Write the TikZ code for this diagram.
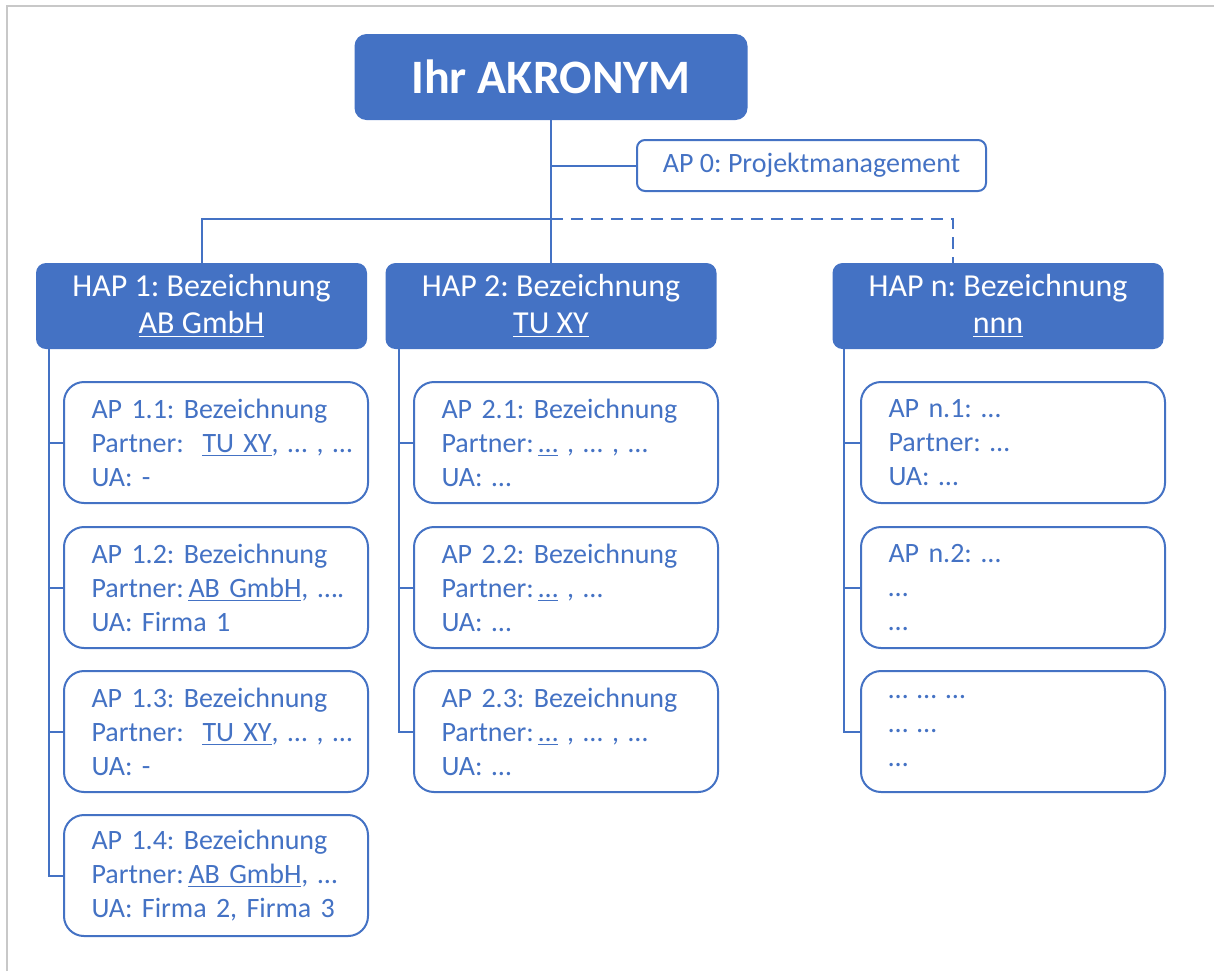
\documentclass[tikz,border=0pt]{standalone}
\usepackage{fontspec}
\setmainfont{Carlito}
\frenchspacing
\definecolor{obl}{HTML}{4472C4}
\definecolor{framegray}{HTML}{C8C8C8}
\newcommand{\apline}[1]{\mbox{#1}}
\tikzset{
  topbox/.style={fill=obl, rounded corners=6pt, minimum width=196.5pt, minimum height=43pt,
    text=white, inner sep=0pt, font=\fontsize{24}{29}\selectfont\bfseries},
  hapbox/.style={fill=obl, rounded corners=5pt, minimum width=165.5pt, minimum height=43pt,
    text=white, align=center, inner sep=0pt, font=\fontsize{16}{18.5}\selectfont},
  apbox/.style={draw=obl, line width=1pt, fill=white, rounded corners=10pt,
    minimum width=152pt, minimum height=60.5pt, text width=124.5pt, align=left,
    text=obl, inner ysep=0pt, font=\fontsize{14}{17}\selectfont},
  apzero/.style={draw=obl, line width=1pt, fill=white, rounded corners=4pt,
    minimum width=174.5pt, minimum height=25.5pt, inner sep=0pt,
    text=obl, font=\fontsize{14}{17}\selectfont},
  link/.style={draw=obl, line width=1pt},
  dlink/.style={draw=obl, line width=1pt, dash pattern=on 6pt off 4pt},
}
\begin{document}
\begin{tikzpicture}[x=0.5pt,y=-0.5pt]
\useasboundingbox (0,0) rectangle (1214,971);
\draw[framegray, line width=1pt] (7,971) -- (7,5.5) -- (1214,5.5);

% main nodes
\node[topbox] (top) at (551,77) {Ihr AKRONYM};
\node[apzero] (ap0) at (811.5,165.5) {AP 0: Projektmanagement};
\node[hapbox] (hap1) at (201.5,306) {HAP 1: Bezeichnung\\\underline{AB GmbH}};
\node[hapbox] (hap2) at (551,306) {HAP 2: Bezeichnung\\\underline{TU XY}};
\node[hapbox] (hapn) at (998,306) {HAP n: Bezeichnung\\\underline{nnn}};

% column 1
\node[apbox] (ap11) at (216,442.5) {\apline{AP 1.1: Bezeichnung}\\\apline{Partner:\ \ \underline{TU XY}, … , …}\\\apline{UA: -}};
\node[apbox] (ap12) at (216,587.5) {\apline{AP 1.2: Bezeichnung}\\\apline{Partner:\,\underline{AB GmbH}, ….}\\\apline{UA: Firma 1}};
\node[apbox] (ap13) at (216,731.5) {\apline{AP 1.3: Bezeichnung}\\\apline{Partner:\ \ \underline{TU XY}, … , …}\\\apline{UA: -}};
\node[apbox] (ap14) at (216,875.5) {\apline{AP 1.4: Bezeichnung}\\\apline{Partner:\,\underline{AB GmbH}, …}\\\apline{UA: Firma 2, Firma 3}};

% column 2
\node[apbox] (ap21) at (566,442.5) {\apline{AP 2.1: Bezeichnung}\\\apline{Partner:\,\underline{…} , … , …}\\\apline{UA: …}};
\node[apbox] (ap22) at (566,587.5) {\apline{AP 2.2: Bezeichnung}\\\apline{Partner:\,\underline{…} , …}\\\apline{UA: …}};
\node[apbox] (ap23) at (566,731.5) {\apline{AP 2.3: Bezeichnung}\\\apline{Partner:\,\underline{…} , … , …}\\\apline{UA: …}};

% column n
\node[apbox] (apn1) at (1013,442.5) {\apline{AP n.1: …}\\\apline{Partner: …}\\\apline{UA: …}};
\node[apbox] (apn2) at (1013,587.5) {\apline{AP n.2: …}\\…\\…};
\node[apbox] (apn3) at (1013,731.5) {\apline{… … …}\\\apline{… …}\\…};

% connectors
\coordinate (bus) at (551,219);
\draw[link] (top.south) -- (hap2.north);
\draw[link] (ap0.west) -- (ap0.west -| top.south);
\draw[link] (hap1.north) |- (bus);
\draw[dlink] (bus) -| ([xshift=-22.5pt]hapn.north);

\foreach \b in {ap11,ap12,ap13,ap14}
  \draw[link] ([xshift=6.5pt]hap1.south west) |- (\b.west);
\foreach \b in {ap21,ap22,ap23}
  \draw[link] ([xshift=7pt]hap2.south west) |- (\b.west);
\foreach \b in {apn1,apn2,apn3}
  \draw[link] ([xshift=6pt]hapn.south west) |- (\b.west);
\end{tikzpicture}
\end{document}
